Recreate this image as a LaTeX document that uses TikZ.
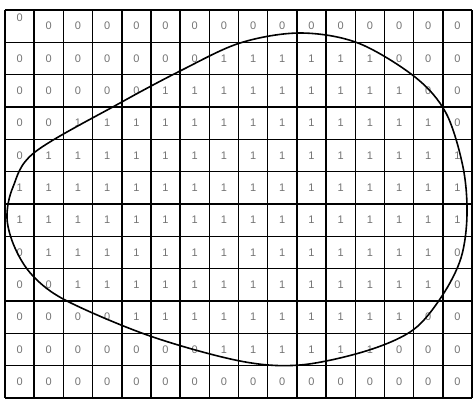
\documentclass[tikz,border=0pt]{standalone}
\usepackage{fontspec}
\setmainfont{Liberation Sans}
\usepackage{tikz}
\usetikzlibrary{positioning}
\tikzset{
  cellval/.style={font=\fontsize{5.5}{6}\selectfont, text=black!55, inner sep=0pt},
  gridln/.style={line width=0.75pt},
  blob/.style={line width=0.8pt},
}

\begin{document}
\begin{tikzpicture}[x=0.5pt,y=-0.5pt]
\useasboundingbox (0,0) rectangle (473,398);
% grid lines
\foreach \i in {0,...,16} \draw[gridln] ({5+\i*29.19},10) -- ({5+\i*29.19},398);
\foreach \j in {0,...,12} \draw[gridln] (5,{10+\j*32.33}) -- (472,{10+\j*32.33});
% cell values
\foreach \rowvals [count=\r from 0] in {
  {0,0,0,0,0,0,0,0,0,0,0,0,0,0,0,0},
  {0,0,0,0,0,0,0,1,1,1,1,1,1,0,0,0},
  {0,0,0,0,0,1,1,1,1,1,1,1,1,1,0,0},
  {0,0,1,1,1,1,1,1,1,1,1,1,1,1,1,0},
  {0,1,1,1,1,1,1,1,1,1,1,1,1,1,1,1},
  {1,1,1,1,1,1,1,1,1,1,1,1,1,1,1,1},
  {1,1,1,1,1,1,1,1,1,1,1,1,1,1,1,1},
  {0,1,1,1,1,1,1,1,1,1,1,1,1,1,1,0},
  {0,0,1,1,1,1,1,1,1,1,1,1,1,1,1,0},
  {0,0,0,0,1,1,1,1,1,1,1,1,1,1,0,0},
  {0,0,0,0,0,0,0,1,1,1,1,1,1,0,0,0},
  {0,0,0,0,0,0,0,0,0,0,0,0,0,0,0,0}}
  \foreach \v [count=\c from 0] in \rowvals {
    \pgfmathsetmacro\dy{and(\r==0,\c==0)*4}
    \node[cellval, yshift=\dy pt] (v-\r-\c) at ({5+(\c+0.5)*29.19},{10+(\r+0.5)*32.33}) {\v};
  }
% region boundary
\draw[blob] plot[smooth cycle, tension=0.55] coordinates {
  (300,33) (358,43) (415,77) (446,113) (463,167) (467,215) (461,258)
  (442,296) (413,330) (366,351) (300,365) (240,361) (150,336) (67,301)
  (33,276) (15,248) (7,218) (13,187) (35,152) (120,103) (182,70) (240,43)};
\end{tikzpicture}
\end{document}
